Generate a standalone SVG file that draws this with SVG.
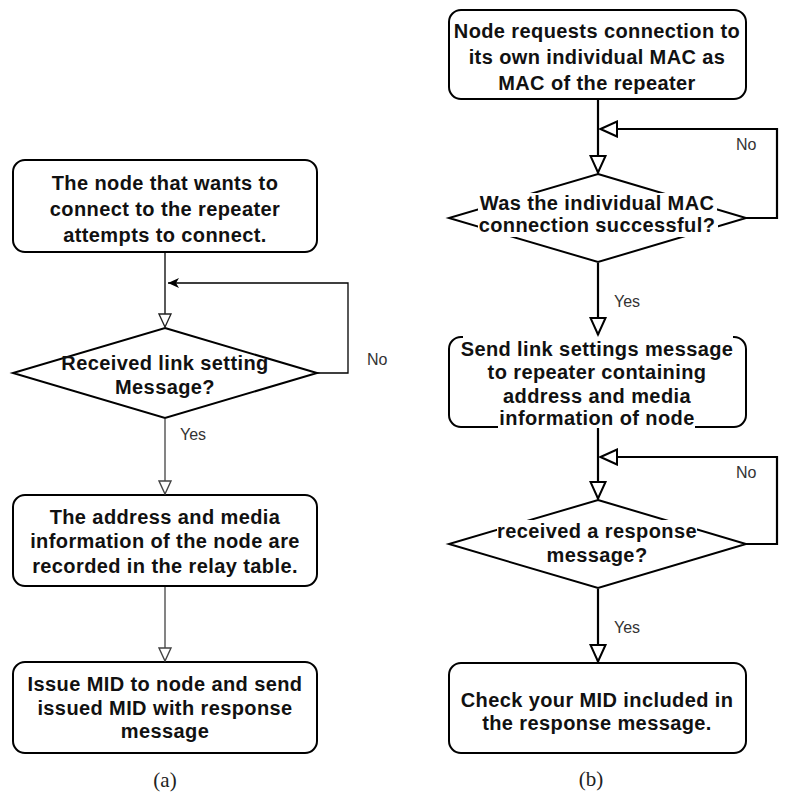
<svg xmlns="http://www.w3.org/2000/svg" width="791" height="803" viewBox="0 0 791 803">
<style>
.box{fill:#fff;stroke:#000;stroke-width:2}
.t{font-family:"Liberation Sans",Arial,sans-serif;font-weight:bold;font-size:20px;letter-spacing:0.4px;fill:#111;text-anchor:middle}
.lbl{font-family:"Liberation Sans",Arial,sans-serif;font-size:16px;fill:#333}
.cap{font-family:"Liberation Serif","Times New Roman",serif;font-size:21px;fill:#222;text-anchor:middle}
.bg{fill:#fff}
.cl{fill:none;stroke:#000;stroke-width:1.3}
.cg{fill:none;stroke:#777;stroke-width:1.8}
.cr{fill:none;stroke:#000;stroke-width:2.2}
</style>
<defs>
<marker id="openL" viewBox="0 0 15 15" refX="14" refY="7.5" markerWidth="15" markerHeight="15" markerUnits="userSpaceOnUse" orient="auto"><path d="M1,1.5 L14,7.5 L1,13.5 Z" fill="#fff" stroke="#222" stroke-width="1.3"/></marker>
<marker id="openG" viewBox="0 0 15 15" refX="14" refY="7.5" markerWidth="15" markerHeight="15" markerUnits="userSpaceOnUse" orient="auto"><path d="M1,1.5 L14,7.5 L1,13.5 Z" fill="#fff" stroke="#444" stroke-width="1.4"/></marker>
<marker id="openR" viewBox="0 0 20 18" refX="18.5" refY="9" markerWidth="20" markerHeight="18" markerUnits="userSpaceOnUse" orient="auto"><path d="M1.5,1.5 L18,9 L1.5,16.5 Z" fill="#fff" stroke="#000" stroke-width="2"/></marker>
<marker id="fillA" viewBox="0 0 12 10" refX="11" refY="5" markerWidth="12" markerHeight="10" markerUnits="userSpaceOnUse" orient="auto"><path d="M0,0 L11,5 L0,10 L3,5 Z" fill="#000"/></marker>
</defs>
<rect width="791" height="803" fill="#fff"/>

<g id="a-start">
<rect class="box" x="13" y="160" width="304" height="92" rx="12"/>
<text class="t" x="165" y="190">The node that wants to</text>
<text class="t" x="165" y="216">connect to the repeater</text>
<text class="t" x="165" y="242">attempts to connect.</text>
</g>
<g id="a-decision">
<path class="box" d="M165,328 L317,373 L165,418 L13,373 Z"/>
<text class="t" x="165" y="370">Received link setting</text>
<text class="t" x="165" y="394">Message?</text>
</g>
<g id="a-record">
<rect class="box" x="13" y="495" width="304" height="91" rx="12"/>
<text class="t" x="165" y="524">The address and media</text>
<text class="t" x="165" y="548">information of the node are</text>
<text class="t" x="165" y="573">recorded in the relay table.</text>
</g>
<g id="a-issue">
<rect class="box" x="13" y="662" width="304" height="91" rx="12"/>
<text class="t" x="165" y="691">Issue MID to node and send</text>
<text class="t" x="165" y="715">issued MID with response</text>
<text class="t" x="165" y="738">message</text>
</g>

<g id="b-start">
<rect class="box" x="449" y="10" width="297" height="89" rx="12"/>
<text class="t" x="597" y="38">Node requests connection to</text>
<text class="t" x="597" y="64">its own individual MAC as</text>
<text class="t" x="597" y="90">MAC of the repeater</text>
</g>
<g id="b-decision1">
<path class="box" d="M598,174 L746,218 L598,262 L449,218 Z"/>
<rect class="bg" x="478" y="193" width="239" height="22"/>
<rect class="bg" x="478" y="215" width="240" height="22"/>
<text class="t" x="597" y="210">Was the individual MAC</text>
<text class="t" x="597" y="232">connection successful?</text>
</g>
<g id="b-send">
<rect class="box" x="449" y="337" width="297" height="90" rx="12"/>
<rect class="bg" x="463" y="335" width="270" height="25"/>
<rect class="bg" x="486" y="360" width="223" height="24"/>
<rect class="bg" x="508" y="384" width="178" height="23"/>
<rect class="bg" x="498" y="407" width="197" height="23"/>
<text class="t" x="597" y="356">Send link settings message</text>
<text class="t" x="597" y="379">to repeater containing</text>
<text class="t" x="597" y="403">address and media</text>
<text class="t" x="597" y="425">information of node</text>
</g>
<g id="b-decision2">
<path class="box" d="M598,500 L746,544 L598,588 L449,544 Z"/>
<rect class="bg" x="497" y="520" width="200" height="23"/>
<rect class="bg" x="547" y="543" width="100" height="24"/>
<text class="t" x="597" y="538">received a response</text>
<text class="t" x="597" y="562">message?</text>
</g>
<g id="b-check">
<rect class="box" x="449" y="663" width="297" height="90" rx="12"/>
<text class="t" x="597" y="707">Check your MID included in</text>
<text class="t" x="597" y="730">the response message.</text>
</g>

<g id="connectors">
<path class="cl" d="M165,253 L165,327" marker-end="url(#openL)"/>
<path class="cl" d="M317,373 L348,373 L348,283 L168,283" marker-end="url(#fillA)"/>
<path class="cg" d="M165,419 L165,494" marker-end="url(#openG)"/>
<path class="cg" d="M165,587 L165,661" marker-end="url(#openG)"/>
<path class="cr" d="M598,100 L598,173" marker-end="url(#openR)"/>
<path class="cr" d="M746,218 L777,218 L777,129 L600,129" marker-end="url(#openR)"/>
<path class="cr" d="M598,263 L598,335" marker-end="url(#openR)"/>
<path class="cr" d="M598,428 L598,499" marker-end="url(#openR)"/>
<path class="cr" d="M746,544 L777,544 L777,457 L600,457" marker-end="url(#openR)"/>
<path class="cr" d="M598,589 L598,662" marker-end="url(#openR)"/>
</g>

<g id="labels">
<text class="lbl" x="367" y="365">No</text>
<text class="lbl" x="180" y="440">Yes</text>
<text class="lbl" x="736" y="150">No</text>
<text class="lbl" x="614" y="307">Yes</text>
<text class="lbl" x="736" y="478">No</text>
<text class="lbl" x="614" y="633">Yes</text>
<text class="cap" x="165" y="787">(a)</text>
<text class="cap" x="591" y="786">(b)</text>
</g>
</svg>
